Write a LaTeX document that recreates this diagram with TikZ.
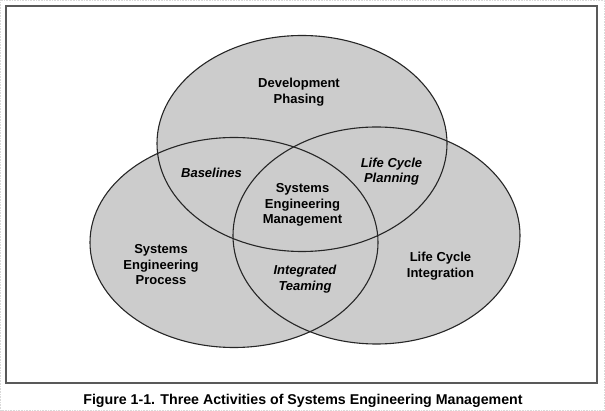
\documentclass[tikz,border=0pt]{standalone}
\usepackage{fontspec}
\setmainfont{Liberation Sans}
\usetikzlibrary{positioning}
\definecolor{venngrey}{HTML}{CCCCCC}
\tikzset{
  vennfill/.style={fill=venngrey},
  vennline/.style={draw=black!85, line width=1.1pt},
  lbl/.style={align=center, inner sep=0pt, font=\fontsize{13}{15.5}\selectfont\bfseries},
  ilbl/.style={lbl, font=\fontsize{13}{15.5}\selectfont\bfseries\itshape},
}

\begin{document}
\begin{tikzpicture}[x=1pt,y=-1pt]
    \useasboundingbox (0,0) rectangle (605,411);
    % page edge and frame
    \draw[gray!30, densely dotted, line width=0.6pt] (0.5,0.5) rectangle (604.5,410.5);
    \draw[black!65, line width=2pt] (6,6) rectangle (597,383);
    % ellipses, filled first then outlined
    \fill[vennfill] (302,143.5) ellipse [x radius=145, y radius=108];
    \fill[vennfill] (234,242.5) ellipse [x radius=144, y radius=105];
    \fill[vennfill] (376.5,235.5) ellipse [x radius=143.5, y radius=108.5];
    \draw[vennline] (302,143.5) ellipse [x radius=145, y radius=108];
    \draw[vennline] (234,242.5) ellipse [x radius=144, y radius=105];
    \draw[vennline] (376.5,235.5) ellipse [x radius=143.5, y radius=108.5];
    % activities
    \node[lbl] (phasing) at (299,92) {Development\\Phasing};
    \node[lbl] (process) at (161,265) {Systems\\Engineering\\Process};
    \node[lbl] (integration) at (440.5,266) {Life Cycle\\Integration};
    % overlaps
    \node[ilbl] (baselines) at (211.5,173) {Baselines};
    \node[ilbl] (planning) at (391.5,171.5) {Life Cycle\\Planning};
    \node[ilbl] (teaming) at (305,279) {Integrated\\Teaming};
    \node[lbl] (sem) at (302.5,205) {Systems\\Engineering\\Management};
    % caption
    \node[font=\fontsize{14.2}{17}\selectfont\bfseries, inner sep=0pt] (caption) at (303,400.5)
      {Figure 1-1. Three Activities of Systems Engineering Management};
\end{tikzpicture}
\end{document}
